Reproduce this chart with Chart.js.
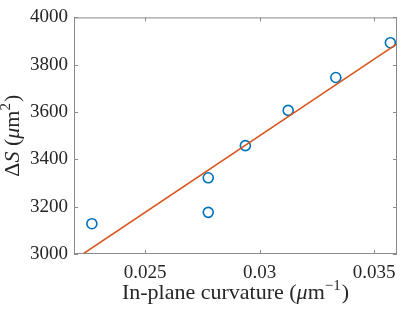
<!DOCTYPE html>
<html>
<head>
<meta charset="utf-8">
<script src="https://cdn.jsdelivr.net/npm/chart.js@4"></script>
<style>
  html, body { margin: 0; padding: 0; background: #fff; }
  #wrap { width: 415px; height: 312px; }
</style>
</head>
<body>
<div id="wrap"><canvas id="grafico"></canvas></div>
<script>
// measured points
const curvature = [0.02268, 0.02776, 0.02776, 0.02938, 0.03125, 0.03333, 0.03571];
const deltaS = [3128, 3176, 3322, 3458, 3607, 3746, 3893];

// linear fit, read at the plot edges
const fitX = [0.0219, 0.036];
const fitY = [2975, 3888];

const xTicks = [0.025, 0.03, 0.035];
const xTickLabels = ['0.025', '0.03', '0.035'];
const yTicks = [3000, 3200, 3400, 3600, 3800, 4000];
const yTickLabels = ['3000', '3200', '3400', '3600', '3800', '4000'];

// axis titles as runs: [text, italic, superscript]
const xTitle = [['In-plane curvature (', 0, 0], ['μ', 1, 0], ['m', 0, 0], ['−1', 0, 1], [')', 0, 0]];
const yTitle = [['Δ', 0, 0], ['S', 1, 0], [' (', 0, 0], ['μ', 1, 0], ['m', 0, 0], ['2', 0, 1], [')', 0, 0]];

const serif = '"Liberation Serif", "DejaVu Serif", serif';
const frameColor = '#8a8a8a';
const textColor = '#262626';
const titleSize = 22;

function runFont(r) {
  const size = r[2] ? Math.round(titleSize * 0.68) : titleSize;
  return (r[1] ? 'italic ' : '') + size + 'px ' + serif;
}

// draws a run list centred on 0 along the baseline
function drawRuns(c, runs) {
  let total = 0;
  runs.forEach(r => { c.font = runFont(r); total += c.measureText(r[0]).width + (r[2] ? 1 : 0); });
  let x = -total / 2;
  runs.forEach(r => {
    c.font = runFont(r);
    c.fillText(r[0], x, r[2] ? -titleSize * 0.42 : 0);
    x += c.measureText(r[0]).width + (r[2] ? 1 : 0);
  });
}

// box plus inward tick marks, like matlab, and the titles
const boxTicks = {
  id: 'boxTicks',
  afterDraw(chart) {
    const c = chart.ctx;
    const a = chart.chartArea;
    const sx = chart.scales.x, sy = chart.scales.y;
    const len = 4;
    c.save();
    c.strokeStyle = frameColor;
    c.lineWidth = 1;
    c.strokeRect(a.left + 0.5, a.top + 0.5, a.right - a.left - 1, a.bottom - a.top - 1);
    c.beginPath();
    xTicks.forEach(v => {
      const px = Math.round(sx.getPixelForValue(v)) + 0.5;
      c.moveTo(px, a.bottom); c.lineTo(px, a.bottom - len);
      c.moveTo(px, a.top); c.lineTo(px, a.top + len);
    });
    yTicks.forEach(v => {
      const py = Math.round(sy.getPixelForValue(v)) + 0.5;
      c.moveTo(a.left, py); c.lineTo(a.left + len, py);
      c.moveTo(a.right, py); c.lineTo(a.right - len, py);
    });
    c.stroke();

    c.fillStyle = textColor;
    c.textBaseline = 'alphabetic';
    c.textAlign = 'left';
    c.save();
    c.translate((a.left + a.right) / 2, 299);
    drawRuns(c, xTitle);
    c.restore();
    c.save();
    c.translate(19, (a.top + a.bottom) / 2);
    c.rotate(-Math.PI / 2);
    drawRuns(c, yTitle);
    c.restore();
    c.restore();
  }
};

const ctx = document.getElementById('grafico');

new Chart(ctx, {
  type: 'scatter',
  data: {
    datasets: [{
      type: 'line',
      label: 'fit',
      data: fitX.map((x, i) => ({ x: x, y: fitY[i] })),
      borderColor: '#D95319',
      borderWidth: 1.6,
      pointRadius: 0,
      fill: false
    }, {
      label: 'data',
      data: curvature.map((x, i) => ({ x: x, y: deltaS[i] })),
      borderColor: '#0072BD',
      backgroundColor: 'rgba(0,0,0,0)',
      borderWidth: 1.6,
      pointRadius: 5,
      pointStyle: 'circle'
    }]
  },
  options: {
    responsive: true,
    maintainAspectRatio: false,
    animation: false,
    layout: { padding: { left: 0, right: 18, top: 12, bottom: 0 } },
    plugins: {
      legend: { display: false },
      tooltip: { enabled: false }
    },
    scales: {
      x: {
        type: 'linear',
        min: 0.0219,
        max: 0.036,
        afterBuildTicks: s => { s.ticks = xTicks.map(v => ({ value: v })); },
        afterFit: s => { s.height = 58; },
        grid: { display: false, drawTicks: false },
        border: { display: false },
        ticks: {
          padding: 8,
          color: textColor,
          font: { family: serif, size: 19 },
          callback: v => xTickLabels[xTicks.indexOf(v)]
        }
      },
      y: {
        min: 3000,
        max: 4000,
        afterBuildTicks: s => { s.ticks = yTicks.map(v => ({ value: v })); },
        afterFit: s => { s.width = 74; },
        grid: { display: false, drawTicks: false },
        border: { display: false },
        ticks: {
          padding: 6,
          color: textColor,
          font: { family: serif, size: 19 },
          callback: v => yTickLabels[yTicks.indexOf(v)]
        }
      }
    }
  },
  plugins: [boxTicks]
});
</script>
</body>
</html>
